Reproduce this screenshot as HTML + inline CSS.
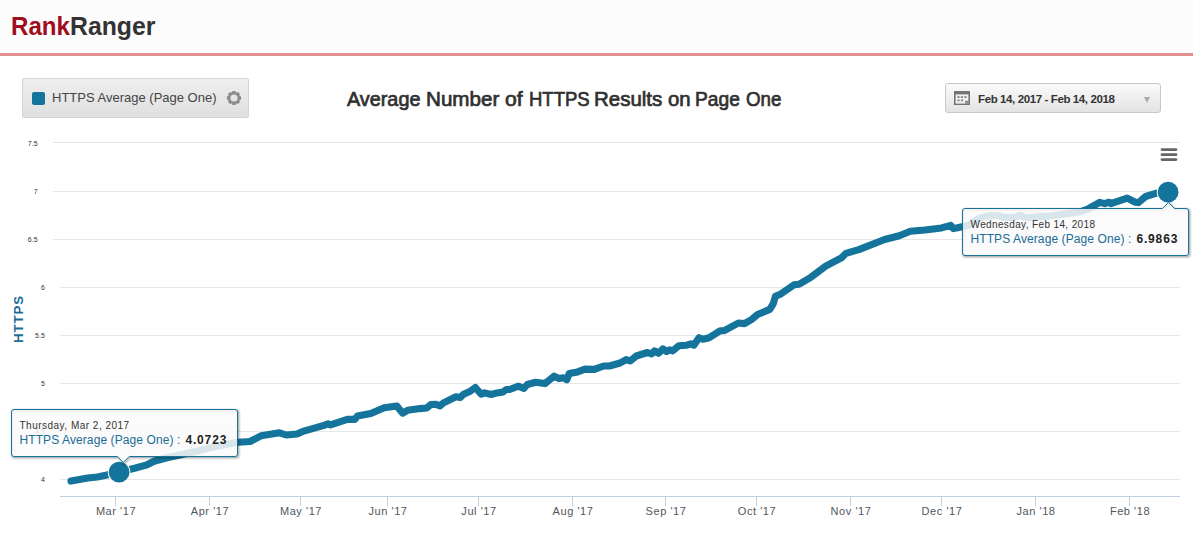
<!DOCTYPE html>
<html><head><meta charset="utf-8"><title>Rank Ranger</title>
<style>
html,body{margin:0;padding:0;background:#fff;}
body{width:1193px;height:544px;overflow:hidden;position:relative;font-family:"Liberation Sans",sans-serif;}
#hdr{position:absolute;left:0;top:0;width:1193px;height:53px;background:#fcfcfc;border-bottom:3px solid #e38e8e;}
#logo{position:absolute;left:0;top:10.9px;font-weight:bold;font-size:26.4px;line-height:30px;white-space:nowrap;}
#logo span{position:absolute;top:0;transform-origin:0 0;}
#legend{position:absolute;left:22px;top:78px;width:225px;height:38px;border:1px solid #d4d4d4;border-radius:2px;background:linear-gradient(#eeeeee,#e0e0e0);box-sizing:content-box;}
#legend .sq{position:absolute;left:9px;top:13px;width:13px;height:13px;border-radius:2px;background:#15749c;}
#legend .tx{position:absolute;left:29px;top:10px;font-size:13px;line-height:18px;color:#444;white-space:nowrap;letter-spacing:0;}
#title{position:absolute;left:0;top:85.5px;font-size:20px;line-height:26px;font-weight:normal;-webkit-text-stroke:0.7px #303030;color:#303030;white-space:nowrap;}
#title span{position:absolute;top:0;transform-origin:0 0;}
#date{position:absolute;left:945px;top:83px;width:214px;height:28px;border:1px solid #c8c8c8;border-radius:3px;background:linear-gradient(#fbfbfb,#e3e3e3);}
#date .tx{position:absolute;left:32px;top:7.6px;font-size:11.5px;line-height:15px;font-weight:bold;color:#333;white-space:nowrap;letter-spacing:-0.39px;}
#date .ar{position:absolute;left:197.8px;top:12.5px;width:0;height:0;border-left:3.5px solid transparent;border-right:3.5px solid transparent;border-top:6px solid #aaa;}
svg{position:absolute;left:0;top:0;}
.xl{font-size:11px;fill:#50565c;letter-spacing:0.55px;}
.yl{font-size:7px;fill:#333;}
.t1{font-size:10px;fill:#333;letter-spacing:0.4px;}
.t2{font-size:12px;letter-spacing:0.09px;}
.tv{font-weight:bold;fill:#222;letter-spacing:0.85px;}
</style></head><body>
<div id="hdr"><div id="logo"><span style="left:11.30px;color:#a00d1e;transform:scaleX(0.9131)">Rank</span><span style="left:70.06px;color:#333;transform:scaleX(0.9397)">Ranger</span></div></div>
<div id="legend"><div class="sq"></div><div class="tx">HTTPS Average (Page One)</div>
<svg width="20" height="20" viewBox="-10 -10 20 20" style="left:201px;top:8.8px"><g fill="#8c8c8c"><circle r="6.1"/><rect x="-1.9" y="-7.1" width="3.8" height="14.2" rx="1.2"/><rect x="-1.9" y="-7.1" width="3.8" height="14.2" rx="1.2" transform="rotate(45)"/><rect x="-1.9" y="-7.1" width="3.8" height="14.2" rx="1.2" transform="rotate(90)"/><rect x="-1.9" y="-7.1" width="3.8" height="14.2" rx="1.2" transform="rotate(135)"/></g><circle r="3.6" fill="#e5e5e5"/></svg>
</div>
<div id="title"><span style="left:347.20px;transform:scaleX(0.9905)">Average</span><span style="left:425.51px;transform:scaleX(1.0314)">Number</span><span style="left:505.27px;transform:scaleX(1.0545)">of</span><span style="left:528.74px;transform:scaleX(0.9255)">HTTPS</span><span style="left:594.42px;transform:scaleX(1.0231)">Results</span><span style="left:667.99px;transform:scaleX(1.0169)">on</span><span style="left:695.30px;transform:scaleX(0.9600)">Page</span><span style="left:745.53px;transform:scaleX(0.9361)">One</span></div>
<div id="date">
<svg width="16" height="14" viewBox="0 0 16 14" style="left:8px;top:6.5px"><rect x="0" y="0" width="16" height="14" fill="#747474"/><rect x="1.6" y="3.4" width="12.8" height="9.2" fill="#f2f2f2"/><g fill="#8a8a8a"><rect x="3.4" y="5.1" width="2.2" height="1.9"/><rect x="6.9" y="5.1" width="2.2" height="1.9"/><rect x="10.4" y="5.1" width="2.2" height="1.9"/><rect x="3.4" y="8.4" width="2.2" height="1.9"/><rect x="6.9" y="8.4" width="2.2" height="1.9"/></g><path d="M11.2 12.6V9.8H14.4V12.6Z" fill="#747474"/><path d="M12.4 12V10.8H13.8Z" fill="#f2f2f2"/></svg>
<div class="tx">Feb 14, 2017 - Feb 14, 2018</div><div class="ar"></div></div>
<svg width="1193" height="544" viewBox="0 0 1193 544">
<rect x="53" y="142" width="1127" height="1" fill="#e6e6e6"/><rect x="53" y="191" width="1127" height="1" fill="#e6e6e6"/><rect x="53" y="239" width="1127" height="1" fill="#e6e6e6"/><rect x="60" y="287" width="1120" height="1" fill="#e6e6e6"/><rect x="60" y="335" width="1120" height="1" fill="#e6e6e6"/><rect x="60" y="383" width="1120" height="1" fill="#e6e6e6"/><rect x="60" y="431" width="1120" height="1" fill="#e6e6e6"/><rect x="60" y="479" width="1120" height="1" fill="#e6e6e6"/>
<rect x="60" y="496" width="1120" height="1" fill="#c0d0e0"/>
<rect x="115.0" y="497" width="1" height="9" fill="#c0d0e0"/><rect x="209.0" y="497" width="1" height="9" fill="#c0d0e0"/><rect x="300.0" y="497" width="1" height="9" fill="#c0d0e0"/><rect x="387.0" y="497" width="1" height="9" fill="#c0d0e0"/><rect x="478.0" y="497" width="1" height="9" fill="#c0d0e0"/><rect x="572.0" y="497" width="1" height="9" fill="#c0d0e0"/><rect x="665.0" y="497" width="1" height="9" fill="#c0d0e0"/><rect x="756.0" y="497" width="1" height="9" fill="#c0d0e0"/><rect x="850.0" y="497" width="1" height="9" fill="#c0d0e0"/><rect x="941.0" y="497" width="1" height="9" fill="#c0d0e0"/><rect x="1035.0" y="497" width="1" height="9" fill="#c0d0e0"/><rect x="1129.0" y="497" width="1" height="9" fill="#c0d0e0"/>
<text x="116.0" y="514.7" text-anchor="middle" class="xl">Mar '17</text><text x="210.0" y="514.7" text-anchor="middle" class="xl">Apr '17</text><text x="301.0" y="514.7" text-anchor="middle" class="xl">May '17</text><text x="388.0" y="514.7" text-anchor="middle" class="xl">Jun '17</text><text x="479.0" y="514.7" text-anchor="middle" class="xl">Jul '17</text><text x="573.0" y="514.7" text-anchor="middle" class="xl">Aug '17</text><text x="666.0" y="514.7" text-anchor="middle" class="xl">Sep '17</text><text x="757.0" y="514.7" text-anchor="middle" class="xl">Oct '17</text><text x="851.0" y="514.7" text-anchor="middle" class="xl">Nov '17</text><text x="942.0" y="514.7" text-anchor="middle" class="xl">Dec '17</text><text x="1036.0" y="514.7" text-anchor="middle" class="xl">Jan '18</text><text x="1130.0" y="514.7" text-anchor="middle" class="xl">Feb '18</text><text x="37.6" y="146.0" text-anchor="end" class="yl">7.5</text><text x="37.6" y="194.3" text-anchor="end" class="yl">7</text><text x="37.6" y="242.3" text-anchor="end" class="yl">6.5</text><text x="44.8" y="290.3" text-anchor="end" class="yl">6</text><text x="44.8" y="338.3" text-anchor="end" class="yl">5.5</text><text x="44.8" y="386.3" text-anchor="end" class="yl">5</text><text x="44.8" y="434.3" text-anchor="end" class="yl">4.5</text><text x="44.8" y="482.3" text-anchor="end" class="yl">4</text>
<text transform="translate(22.6,318.9) rotate(-90)" text-anchor="middle" style="font-size:13.3px;font-weight:bold;fill:#1a6d96;letter-spacing:0.9px">HTTPS</text>
<path d="M71.0 481.1 L78.0 479.8 L87.7 478.0 L97.4 477.0 L105.8 475.3 L119.1 472.1 L135.4 468.0 L147.0 464.8 L154.0 461.3 L167.0 457.8 L181.0 454.8 L194.0 451.8 L211.0 447.6 L227.6 444.3 L236.0 442.6 L238.4 442.2 L250.1 441.5 L261.0 435.8 L279.5 432.8 L286.2 435.0 L297.0 434.0 L303.8 431.1 L323.9 425.3 L328.0 423.9 L330.6 424.9 L347.4 419.4 L354.9 419.4 L357.4 416.0 L370.8 413.5 L384.2 407.7 L396.8 406.0 L402.7 413.2 L407.7 410.2 L420.0 408.6 L426.7 408.0 L430.9 404.6 L435.9 404.3 L440.1 405.8 L443.5 402.9 L456.0 396.7 L460.2 397.6 L463.6 394.2 L470.3 391.2 L475.3 387.5 L481.2 394.2 L484.5 392.9 L491.2 394.5 L497.1 392.9 L503.0 392.0 L506.3 389.5 L509.7 389.5 L518.1 386.2 L523.9 388.3 L527.3 384.5 L535.7 382.3 L544.9 383.6 L549.1 380.3 L554.1 376.1 L559.1 378.6 L563.3 377.8 L566.7 379.8 L569.2 373.6 L577.6 371.9 L585.1 369.1 L594.3 369.4 L603.6 366.0 L609.4 366.0 L620.1 363.0 L626.2 359.6 L630.2 361.0 L636.3 356.0 L647.4 352.5 L651.5 353.9 L654.5 350.9 L658.5 353.3 L663.0 348.9 L666.6 351.5 L669.7 349.9 L672.7 350.9 L678.8 345.8 L686.8 345.2 L690.9 343.8 L693.9 345.2 L699.0 337.7 L703.0 339.2 L709.1 337.7 L720.2 330.7 L724.3 330.7 L738.4 323.0 L744.5 323.6 L751.6 319.5 L757.6 314.5 L769.8 309.4 L773.4 303.4 L775.4 296.3 L780.9 293.9 L794.0 284.8 L799.1 284.2 L811.0 277.2 L825.7 266.2 L841.4 257.9 L846.0 253.3 L858.8 249.6 L884.6 239.5 L899.3 235.8 L910.3 231.3 L925.0 230.0 L941.5 227.9 L950.7 225.4 L953.3 228.6 L957.5 227.8 L962.0 226.8 L970.0 224.6 L975.0 220.8 L980.5 218.0 L990.9 215.4 L998.9 215.8 L1003.5 217.4 L1014.2 217.6 L1019.5 215.4 L1027.0 217.9 L1040.0 216.6 L1051.9 215.8 L1068.1 213.4 L1080.4 211.8 L1088.5 208.7 L1099.7 202.4 L1104.8 203.6 L1108.9 202.2 L1110.9 203.6 L1127.2 198.1 L1135.4 202.2 L1138.4 202.6 L1145.6 196.5 L1155.7 193.4 L1168.3 192.3" fill="none" stroke="#15749c" stroke-width="7.1" stroke-linejoin="round" stroke-linecap="round"/>
<circle cx="119.1" cy="472.2" r="11.3" fill="#fff"/><circle cx="119.1" cy="472.2" r="10.4" fill="#15749c"/>
<circle cx="1168.1" cy="192.2" r="11.3" fill="#fff"/><circle cx="1168.1" cy="192.2" r="10.4" fill="#15749c"/>
<path d="M14.0 409.5 L235.0 409.5 Q237.5 409.5 237.5 412.0 L237.5 454.0 Q237.5 456.5 235.0 456.5 L129.3 456.5 L123.3 462.4 L117.3 456.5 L14.0 456.5 Q11.5 456.5 11.5 454.0 L11.5 412.0 Q11.5 409.5 14.0 409.5 Z" transform="translate(1,1)" fill="none" stroke="#000" stroke-opacity="0.05" stroke-width="5"/><path d="M14.0 409.5 L235.0 409.5 Q237.5 409.5 237.5 412.0 L237.5 454.0 Q237.5 456.5 235.0 456.5 L129.3 456.5 L123.3 462.4 L117.3 456.5 L14.0 456.5 Q11.5 456.5 11.5 454.0 L11.5 412.0 Q11.5 409.5 14.0 409.5 Z" transform="translate(1,1)" fill="none" stroke="#000" stroke-opacity="0.1" stroke-width="3"/><path d="M14.0 409.5 L235.0 409.5 Q237.5 409.5 237.5 412.0 L237.5 454.0 Q237.5 456.5 235.0 456.5 L129.3 456.5 L123.3 462.4 L117.3 456.5 L14.0 456.5 Q11.5 456.5 11.5 454.0 L11.5 412.0 Q11.5 409.5 14.0 409.5 Z" transform="translate(1,1)" fill="none" stroke="#000" stroke-opacity="0.15" stroke-width="1"/><path d="M14.0 409.5 L235.0 409.5 Q237.5 409.5 237.5 412.0 L237.5 454.0 Q237.5 456.5 235.0 456.5 L129.3 456.5 L123.3 462.4 L117.3 456.5 L14.0 456.5 Q11.5 456.5 11.5 454.0 L11.5 412.0 Q11.5 409.5 14.0 409.5 Z" fill="#fafafa" fill-opacity="0.85" stroke="#15749c" stroke-width="1"/><text x="19.5" y="428.5" class="t1"><tspan letter-spacing="0.49">Thursday, Mar 2, 2017</tspan></text><text x="19.5" y="444.0" class="t2"><tspan fill="#1a6d96">HTTPS Average (Page One) :</tspan><tspan class="tv" dx="5">4.0723</tspan></text>
<path d="M965.0 208.5 L1162.5 208.5 L1168.5 202.6 L1174.5 208.5 L1186.0 208.5 Q1188.5 208.5 1188.5 211.0 L1188.5 253.0 Q1188.5 255.5 1186.0 255.5 L965.0 255.5 Q962.5 255.5 962.5 253.0 L962.5 211.0 Q962.5 208.5 965.0 208.5 Z" transform="translate(1,1)" fill="none" stroke="#000" stroke-opacity="0.05" stroke-width="5"/><path d="M965.0 208.5 L1162.5 208.5 L1168.5 202.6 L1174.5 208.5 L1186.0 208.5 Q1188.5 208.5 1188.5 211.0 L1188.5 253.0 Q1188.5 255.5 1186.0 255.5 L965.0 255.5 Q962.5 255.5 962.5 253.0 L962.5 211.0 Q962.5 208.5 965.0 208.5 Z" transform="translate(1,1)" fill="none" stroke="#000" stroke-opacity="0.1" stroke-width="3"/><path d="M965.0 208.5 L1162.5 208.5 L1168.5 202.6 L1174.5 208.5 L1186.0 208.5 Q1188.5 208.5 1188.5 211.0 L1188.5 253.0 Q1188.5 255.5 1186.0 255.5 L965.0 255.5 Q962.5 255.5 962.5 253.0 L962.5 211.0 Q962.5 208.5 965.0 208.5 Z" transform="translate(1,1)" fill="none" stroke="#000" stroke-opacity="0.15" stroke-width="1"/><path d="M965.0 208.5 L1162.5 208.5 L1168.5 202.6 L1174.5 208.5 L1186.0 208.5 Q1188.5 208.5 1188.5 211.0 L1188.5 253.0 Q1188.5 255.5 1186.0 255.5 L965.0 255.5 Q962.5 255.5 962.5 253.0 L962.5 211.0 Q962.5 208.5 965.0 208.5 Z" fill="#fafafa" fill-opacity="0.85" stroke="#15749c" stroke-width="1"/><text x="970.5" y="227.5" class="t1"><tspan letter-spacing="0.37">Wednesday, Feb 14, 2018</tspan></text><text x="970.5" y="243.0" class="t2"><tspan fill="#1a6d96">HTTPS Average (Page One) :</tspan><tspan class="tv" dx="5">6.9863</tspan></text>
<g stroke="#666" stroke-width="2.8" stroke-linecap="round"><path d="M1162 149.6H1176M1162 154.7H1176M1162 159.6H1176"/></g>
</svg>
</body></html>
